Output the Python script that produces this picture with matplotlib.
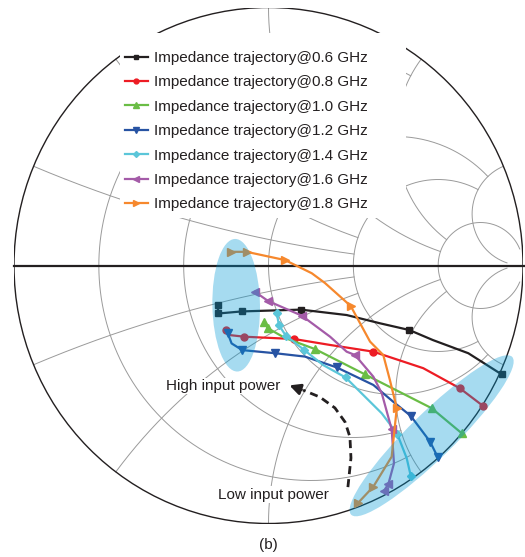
import numpy as np
import matplotlib.pyplot as plt
from matplotlib.patches import Ellipse, Rectangle, Circle
from matplotlib.lines import Line2D

plt.rcParams['font.family'] = ['Liberation Sans', 'DejaVu Sans']

# Smith chart grid: resistance circles / reactance arcs and where each one stops
r_circles = [0.2, 0.5, 1.0, 2.0, 5.0]
r_stop_x = [2.0, 2.0, 5.0, 5.0, 30.0]
x_arcs = [0.2, 0.5, 1.0, 2.0, 5.0]
x_stop_r = [2.0, 2.0, 5.0, 5.0, 30.0]

# Reflection coefficient (real, imag) along each trajectory, low -> high input power
g06_re = [0.916, 0.785, 0.646, 0.553, 0.438, 0.307, 0.127, -0.105, -0.197, -0.200]
g06_im = [-0.422, -0.340, -0.289, -0.250, -0.224, -0.192, -0.171, -0.178, -0.186, -0.153]
g06_mk = [0, 3, 6, 7, 8, 9]

g08_re = [0.844, 0.752, 0.608, 0.412, 0.242, 0.101, -0.095, -0.159, -0.168]
g08_im = [-0.545, -0.476, -0.398, -0.334, -0.308, -0.285, -0.276, -0.269, -0.250]
g08_mk = [0, 1, 3, 5, 6, 8]

g10_re = [0.759, 0.641, 0.379, 0.281, 0.183, 0.065, -0.003, -0.017]
g10_im = [-0.650, -0.553, -0.422, -0.373, -0.324, -0.281, -0.243, -0.218]
g10_mk = [0, 1, 2, 4, 6, 7]

g12_re = [0.665, 0.635, 0.559, 0.490, 0.412, 0.268, 0.143, 0.026, -0.103, -0.145, -0.160]
g12_im = [-0.743, -0.683, -0.583, -0.528, -0.463, -0.395, -0.353, -0.340, -0.328, -0.302, -0.263]
g12_mk = [0, 1, 2, 5, 7, 8, 10]

g14_re = [0.559, 0.543, 0.506, 0.445, 0.399, 0.303, 0.215, 0.141, 0.068, 0.041, 0.032]
g14_im = [-0.816, -0.747, -0.653, -0.573, -0.528, -0.434, -0.386, -0.328, -0.272, -0.231, -0.183]
g14_mk = [0, 2, 5, 7, 8, 9, 10]

g16_re = [0.454, 0.471, 0.493, 0.484, 0.445, 0.412, 0.340, 0.307, 0.242, 0.130, -0.001, -0.053]
g16_im = [-0.873, -0.847, -0.767, -0.635, -0.495, -0.431, -0.347, -0.334, -0.276, -0.194, -0.138, -0.102]
g16_mk = [0, 1, 3, 6, 9, 10, 11]

g18_re = [0.353, 0.412, 0.484, 0.504, 0.477, 0.451, 0.399, 0.323, 0.222, 0.170, 0.065, -0.086, -0.147]
g18_im = [-0.919, -0.857, -0.741, -0.553, -0.444, -0.347, -0.295, -0.157, -0.068, -0.030, 0.021, 0.053, 0.053]
g18_mk = [0, 1, 3, 7, 10, 11, 12]

labels = ['Impedance trajectory@0.6 GHz', 'Impedance trajectory@0.8 GHz',
          'Impedance trajectory@1.0 GHz', 'Impedance trajectory@1.2 GHz',
          'Impedance trajectory@1.4 GHz', 'Impedance trajectory@1.6 GHz',
          'Impedance trajectory@1.8 GHz']

series = [(g06_re, g06_im, g06_mk), (g08_re, g08_im, g08_mk), (g10_re, g10_im, g10_mk),
          (g12_re, g12_im, g12_mk), (g14_re, g14_im, g14_mk), (g16_re, g16_im, g16_mk),
          (g18_re, g18_im, g18_mk)]
colors = ['#231f20', '#ed1c24', '#6abd45', '#2753a3', '#5bc6d9', '#a45ba8', '#f6882d']
markers = ['s', 'o', '^', 'v', 'D', '<', '>']
msizes = [5, 5, 6, 6, 4.5, 6, 6]


def gamma(z):
    return (z - 1) / (z + 1)


fig = plt.figure(figsize=(5.25, 5.57), dpi=100)
ax = fig.add_axes([14 / 525, 33.5 / 557, 509 / 525, 516 / 557])
ax.set_xlim(-1, 1)
ax.set_ylim(-1, 1)
ax.axis('off')

grid_kw = dict(color='#9a9a9a', lw=0.7, zorder=1)
for r, xm in zip(r_circles, r_stop_x):
    t = np.linspace(-np.arctan(xm), np.arctan(xm), 500)
    g = gamma(r + 1j * np.tan(t))
    ax.plot(g.real, g.imag, **grid_kw)
for x, rm in zip(x_arcs, x_stop_r):
    t = np.linspace(0, np.arctan(rm), 500)
    for s in (1, -1):
        g = gamma(np.tan(t) + 1j * s * x)
        ax.plot(g.real, g.imag, **grid_kw)

ax.add_patch(Circle((0, 0), 1, fill=False, ec='#231f20', lw=1.0, zorder=2))
ax.plot([-1, 1.01], [0, 0], color='#231f20', lw=1.6, zorder=2, clip_on=False)

# white panel behind the legend
ax.add_patch(Rectangle((-0.583, 0.184), 1.123, 0.717, fc='white', ec='none', zorder=3))

handles = []
for (re, im, mk), c, m, ms, lab in zip(series, colors, markers, msizes, labels):
    ax.plot(re, im, color=c, lw=1.6, marker=m, ms=ms, markevery=mk, zorder=4)
    handles.append(Line2D([], [], color=c, lw=1.6, marker=m, ms=ms - 1.5, label=lab))

# highlighted high / low input power regions
ax.add_patch(Ellipse((-0.127, -0.154), 0.187, 0.514, angle=1, fc='#009ad6', ec='none',
                     alpha=0.35, zorder=5))
ax.add_patch(Ellipse((0.641, -0.660), 0.88, 0.176, angle=44, fc='#009ad6', ec='none',
                     alpha=0.35, zorder=5, clip_on=False))

# dashed arrow from low to high input power
arc_re = [0.312, 0.324, 0.320, 0.301, 0.261, 0.202, 0.136]
arc_im = [-0.859, -0.746, -0.665, -0.607, -0.552, -0.510, -0.483]
ax.plot(arc_re, arc_im, color='#231f20', lw=2, dashes=(2.9, 1.8), zorder=6)
ax.annotate('', xy=(0.072, -0.461), xytext=(0.140, -0.485),
            arrowprops=dict(arrowstyle='-|>', color='#231f20', lw=2, mutation_scale=16),
            zorder=6)

box = dict(fc='white', ec='none', pad=1)
ax.text(-0.403, -0.467, 'High input power', fontsize=11, color='#231f20', va='center',
        ha='left', bbox=box, zorder=6)
ax.text(-0.198, -0.889, 'Low input power', fontsize=11, color='#231f20', va='center',
        ha='left', bbox=box, zorder=6)

leg = ax.legend(handles=handles, loc='upper left', bbox_to_anchor=(125 / 525, 1 - 51 / 557),
                bbox_transform=fig.transFigure, frameon=False, fontsize=11, handlelength=1.5,
                handletextpad=0.4, labelspacing=0.68, borderpad=0, borderaxespad=0)
for t in leg.get_texts():
    t.set_color('#231f20')
leg.set_zorder(7)

fig.text(268 / 525, 1 - 545 / 557, '(b)', fontsize=11, color='#231f20', ha='center', va='center')

fig.savefig('out.png', dpi=100)
